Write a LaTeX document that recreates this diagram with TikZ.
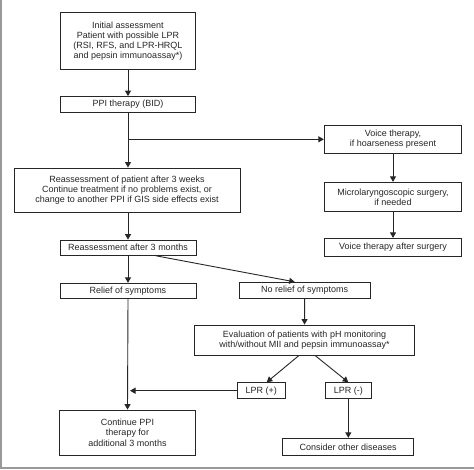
\documentclass[tikz,border=0pt]{standalone}
\usepackage{fontspec}
\setmainfont{Liberation Sans}
\usetikzlibrary{arrows.meta}
\tikzset{
  box/.style={draw=black!85, line width=0.9pt, fill=white, align=center, inner sep=1pt,
    font=\fontsize{9}{10.2}\selectfont, text=black!85},
  arr/.style={draw=black!85, line width=0.9pt, -{Triangle[width=6pt,length=5.5pt]}},
  ln/.style={draw=black!85, line width=0.9pt},
}
\begin{document}
\begin{tikzpicture}[x=1pt,y=-1pt]
\useasboundingbox (0,0) rectangle (474,469);
\fill[white] (0,0) rectangle (474,469);
\fill[black!40] (0,0) rectangle (2,469);
\fill[black!40] (0,467) rectangle (474,469);

\node[box, minimum width=135pt, minimum height=57pt] (init) at (128,41)
  {Initial assessment\\Patient with possible LPR\\(RSI, RFS, and LPR-HRQL\\and pepsin immunoassay*)};
\node[box, minimum width=135pt, minimum height=15.5pt] (ppi) at (128,104.3) {PPI therapy (BID)};
\node[box, minimum width=226pt, minimum height=44pt] (weeks) at (127,190)
  {Reassessment of patient after 3 weeks\\Continue treatment if no problems exist, or\\change to another PPI if GIS side effects exist};
\node[box, minimum width=136pt, minimum height=15.3pt] (months) at (128,247.7) {Reassessment after 3 months};
\node[box, minimum width=136pt, minimum height=15pt] (relief) at (128,290.8) {Relief of symptoms};
\node[box, minimum width=130.7pt, minimum height=16pt] (norelief) at (304.7,290.3) {No relief of symptoms};
\node[box, minimum width=220.4pt, minimum height=30pt] (eval) at (304.5,340)
  {Evaluation of patients with pH monitoring\\with/without MII and pepsin immunoassay*};
\node[box, minimum width=47.3pt, minimum height=16pt] (lprp) at (261.3,390.7) {LPR (+)};
\node[box, minimum width=46.7pt, minimum height=16pt] (lprm) at (348.3,390.7) {LPR (-)};
\node[box, minimum width=135.4pt, minimum height=45.3pt] (cont) at (127.5,432.7)
  {Continue PPI\\therapy for\\additional 3 months};
\node[box, minimum width=131pt, minimum height=17pt] (consider) at (348.2,446.8) {Consider other diseases};

\node[box, minimum width=137.4pt, minimum height=28.5pt] (voice) at (393,139.3)
  {Voice therapy,\\if hoarseness present};
\node[box, minimum width=137.4pt, minimum height=29.4pt] (micro) at (393,197)
  {Microlaryngoscopic surgery,\\if needed};
\node[box, minimum width=137.4pt, minimum height=17.7pt] (vsurg) at (393,247.2) {Voice therapy after surgery};

\draw[arr] (init.south) -- (ppi.north);
\draw[arr] (ppi.south) -- (ppi.south |- weeks.north);
\draw[arr] (ppi.south |- voice.west) -- (voice.west);
\draw[arr] (weeks.south -| months.north) -- (months.north);
\draw[arr] (months.south) -- (relief.north);
\draw[arr] ([xshift=28pt]months.south) -- ([xshift=-10pt]norelief.north);
\draw[arr] (norelief.south) -- (eval.north);
\draw[arr] ([xshift=-5.5pt]eval.south) -- ([xshift=5.4pt]lprp.north);
\draw[arr] ([xshift=10.5pt]eval.south) -- (lprm.north);
\draw[arr] (relief.south) -- (cont.north);
\draw[arr] (lprp.west) -- ([xshift=2pt]relief.south |- lprp.west);
\draw[arr] (lprm.south) -- (lprm.south |- consider.north);
\draw[arr] (voice.south) -- (micro.north);
\draw[arr] (micro.south) -- (vsurg.north);
\end{tikzpicture}
\end{document}
